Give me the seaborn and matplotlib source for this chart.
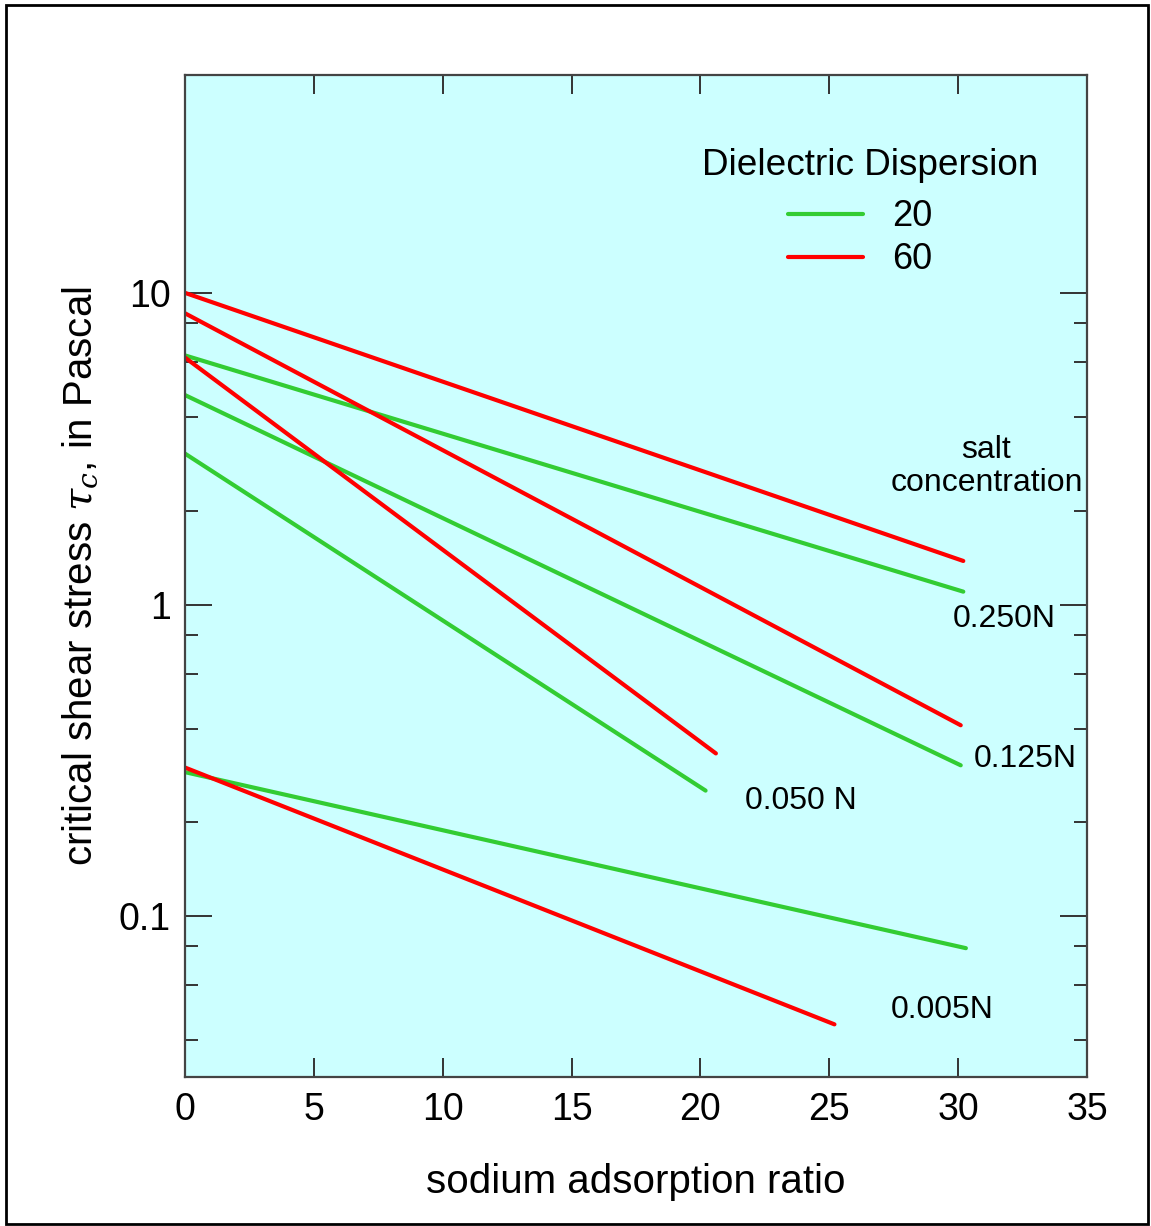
import numpy as np
import pandas as pd
import matplotlib
matplotlib.use("Agg")
import matplotlib.pyplot as plt
import matplotlib.ticker as mticker
from matplotlib.lines import Line2D
from matplotlib.patches import Rectangle
import seaborn as sns

# ---- data ----
salt = ["0.250N", "0.250N", "0.125N", "0.125N", "0.050N", "0.050N", "0.005N", "0.005N"]
dispersion = ["20", "60", "20", "60", "20", "60", "20", "60"]
sar_start = [0, 0, 0, 0, 0, 0, 0, 0]
sar_end = [30.2, 30.2, 30.1, 30.1, 20.2, 20.6, 30.3, 25.2]
tau_start = [6.3, 10.0, 4.7, 8.6, 3.05, 6.2, 0.29, 0.30]
tau_end = [1.1, 1.38, 0.305, 0.41, 0.253, 0.333, 0.079, 0.045]

salt_labels = ["0.250N", "0.125N", "0.050 N", "0.005N"]
salt_label_x = [31.8, 32.6, 23.9, 29.4]
salt_label_y = [0.90, 0.32, 0.234, 0.050]

x_ticks = [0, 5, 10, 15, 20, 25, 30, 35]
y_major = [0.1, 1, 10]
y_major_labels = ["0.1", "1", "10"]
y_minor = [0.04, 0.06, 0.08, 0.2, 0.4, 0.6, 0.8, 2, 4, 6, 8]

colors = {"20": "#33cc33", "60": "#ff0000"}

rows = []
for s, d, x0, x1, y0, y1 in zip(salt, dispersion, sar_start, sar_end, tau_start, tau_end):
    rows.append({"salt": s, "dispersion": d, "sar": x0, "tau": y0, "line": s + d})
    rows.append({"salt": s, "dispersion": d, "sar": x1, "tau": y1, "line": s + d})
df = pd.DataFrame(rows)

sns.set_style("ticks")
plt.rcParams["font.family"] = ["Liberation Sans", "DejaVu Sans"]
plt.rcParams["mathtext.fontset"] = "dejavuserif"
plt.rcParams["text.color"] = "black"
plt.rcParams["axes.labelcolor"] = "black"
plt.rcParams["xtick.labelcolor"] = "black"
plt.rcParams["ytick.labelcolor"] = "black"

fig = plt.figure(figsize=(11.51, 12.26), dpi=100)
ax = fig.add_axes([185 / 1151, 1 - 1077 / 1226, (1087 - 185) / 1151, (1077 - 75) / 1226])
ax.set_facecolor("#ccffff")

sns.lineplot(data=df, x="sar", y="tau", hue="dispersion", units="line",
             estimator=None, palette=colors, linewidth=3, ax=ax, legend=False,
             sort=False)

ax.set_yscale("log")
ax.set_xlim(0, 35)
ax.set_ylim(0.0305, 50)

ax.xaxis.set_major_locator(mticker.FixedLocator(x_ticks))
ax.xaxis.set_major_formatter(mticker.FixedFormatter([str(t) for t in x_ticks]))
ax.yaxis.set_major_locator(mticker.FixedLocator(y_major))
ax.yaxis.set_major_formatter(mticker.FixedFormatter(y_major_labels))
ax.yaxis.set_minor_locator(mticker.FixedLocator(y_minor))
ax.yaxis.set_minor_formatter(mticker.NullFormatter())
ax.xaxis.set_minor_locator(mticker.NullLocator())

ax.tick_params(axis="x", which="major", direction="in", top=True, bottom=True,
               length=13.5, width=1.4, color="#333333", labelsize=27, pad=11,
               labelcolor="black")
ax.tick_params(axis="y", which="major", direction="in", left=True, right=True,
               length=19.5, width=1.4, color="#333333", labelsize=27, pad=10,
               labelcolor="black")
ax.tick_params(axis="y", which="minor", direction="in", left=True, right=True,
               length=9.5, width=1.4, color="#333333")

for sp in ax.spines.values():
    sp.set_visible(True)
    sp.set_linewidth(1.6)
    sp.set_color("#444444")

ax.set_xlabel("sodium adsorption ratio", fontsize=29, labelpad=25, color="black")
ax.set_ylabel(r"critical shear stress $\tau_c$, in Pascal", fontsize=29, labelpad=14,
              color="black")

for lab, lx, ly in zip(salt_labels, salt_label_x, salt_label_y):
    ax.text(lx, ly, lab, fontsize=23, ha="center", va="center", color="black")
ax.text(31.1, 2.77, "salt\nconcentration", fontsize=23, ha="center", va="center",
        color="black", linespacing=1.1)

ax.text(26.6, 25.6, "Dielectric Dispersion", fontsize=26.6, ha="center", va="center",
        color="black")
handles = [Line2D([], [], color=colors["20"], lw=3), Line2D([], [], color=colors["60"], lw=3)]
leg = ax.legend(handles, ["20", "60"], loc="upper left",
                bbox_to_anchor=(0.668, 0.876), frameon=False, fontsize=26,
                borderpad=0, borderaxespad=0, handlelength=2.1,
                handletextpad=0.8, labelspacing=0.22)
for t in leg.get_texts():
    t.set_color("black")

fig.patches.append(Rectangle((6 / 1151, 1 - 1224 / 1226), (1148 - 6) / 1151, (1224 - 5) / 1226,
                             transform=fig.transFigure, fill=False, edgecolor="black",
                             linewidth=2, figure=fig))

fig.savefig("out.png", dpi=100)
